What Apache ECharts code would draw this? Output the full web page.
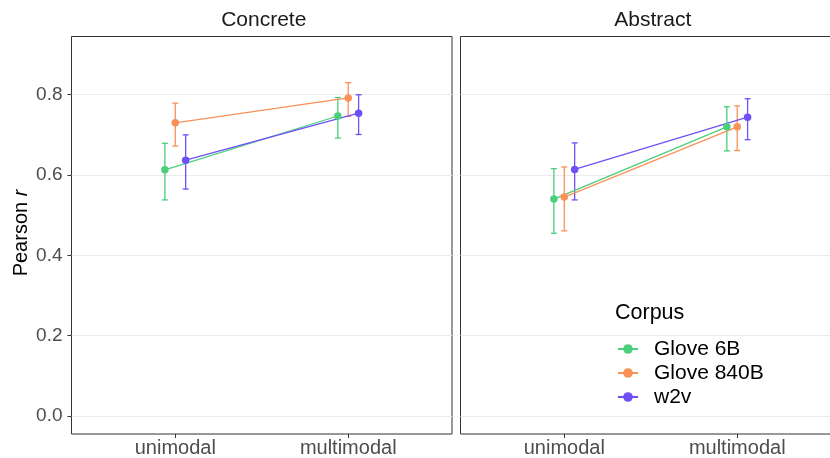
<!DOCTYPE html>
<html>
<head>
<meta charset="utf-8">
<script src="https://cdn.jsdelivr.net/npm/echarts@6/dist/echarts.min.js"></script>
<style>
  html, body { margin: 0; padding: 0; background: #fff; }
  #chart { width: 830px; height: 458px; }
</style>
</head>
<body>
<div id="chart"></div>
<script>
// ---- Data ----
const categories = ['unimodal', 'multimodal'];
const corpora = ['Glove 6B', 'Glove 840B', 'w2v'];
const panels = ['Concrete', 'Abstract'];
const yTicks = [0, 0.2, 0.4, 0.6, 0.8];

// Concrete panel: per corpus, values for [unimodal, multimodal]
const concreteMean = [[0.613, 0.747], [0.730, 0.792], [0.637, 0.754]];
const concreteLow  = [[0.538, 0.692], [0.672, 0.746], [0.565, 0.701]];
const concreteHigh = [[0.679, 0.793], [0.779, 0.830], [0.700, 0.800]];

// Abstract panel
const abstractMean = [[0.540, 0.720], [0.545, 0.720], [0.614, 0.744]];
const abstractLow  = [[0.455, 0.660], [0.461, 0.661], [0.538, 0.688]];
const abstractHigh = [[0.616, 0.770], [0.620, 0.772], [0.680, 0.790]];

// ---- Styling ----
const colors = ['#4BCF7C', '#FA9158', '#6F4FF6'];
const FONT = "'Liberation Sans', Arial, Helvetica, sans-serif";
const dodge = 0.18;

const panelData = [
  { mean: concreteMean, low: concreteLow, high: concreteHigh },
  { mean: abstractMean, low: abstractLow, high: abstractHigh }
];

const gridTop = 36.5, gridHeight = 397.5, panelWidth = 380.5;
// the right panel runs past the image edge, as in the original
const grids = [
  { left: 71.5, top: gridTop, width: panelWidth, height: gridHeight, show: true, borderColor: '#333', borderWidth: 1, backgroundColor: '#fff', outerBoundsMode: 'none', containLabel: false },
  { left: 460.5, top: gridTop, width: panelWidth, height: gridHeight, show: true, borderColor: '#333', borderWidth: 1, backgroundColor: '#fff', outerBoundsMode: 'none', containLabel: false }
];

const xAxes = grids.map((g, i) => ({
  type: 'value', gridIndex: i, min: 0.4, max: 2.6,
  axisLine: { show: false, onZero: false },
  axisTick: { show: true, customValues: [1, 2], length: 4, lineStyle: { color: '#333', width: 1 } },
  axisLabel: { customValues: [1, 2], formatter: v => categories[Math.round(v) - 1] || '', color: '#4D4D4D', fontSize: 20, fontFamily: FONT, margin: 4 },
  splitLine: { show: false }
}));

const yAxes = grids.map((g, i) => ({
  type: 'value', gridIndex: i, min: -0.045, max: 0.945,
  axisLine: { show: false, onZero: false },
  axisTick: { show: i === 0, customValues: yTicks, length: 4, lineStyle: { color: '#333', width: 1 } },
  axisLabel: { show: i === 0, customValues: yTicks, formatter: v => v.toFixed(1), color: '#4D4D4D', fontSize: 19, fontFamily: FONT, margin: 9 },
  splitLine: { show: true, customValues: yTicks, lineStyle: { color: '#EBEBEB', width: 1 } }
}));

const series = [];
panelData.forEach((pd, p) => {
  corpora.forEach((name, c) => {
    const off = (c - 1) * dodge / 3;
    series.push({
      type: 'custom', name: name + ' err', xAxisIndex: p, yAxisIndex: p,
      data: categories.map((cat, k) => [k + 1 + off, pd.low[c][k], pd.high[c][k]]),
      encode: { x: 0, y: [1, 2] },
      renderItem: (params, api) => {
        const lo = api.coord([api.value(0), api.value(1)]);
        const hi = api.coord([api.value(0), api.value(2)]);
        const hw = 3;
        const st = { stroke: colors[c], lineWidth: 1.3 };
        return { type: 'group', children: [
          { type: 'line', shape: { x1: lo[0], y1: lo[1], x2: hi[0], y2: hi[1] }, style: st },
          { type: 'line', shape: { x1: lo[0] - hw, y1: lo[1], x2: lo[0] + hw, y2: lo[1] }, style: st },
          { type: 'line', shape: { x1: hi[0] - hw, y1: hi[1], x2: hi[0] + hw, y2: hi[1] }, style: st }
        ]};
      },
      z: 2, silent: true
    });
  });
  corpora.forEach((name, c) => {
    const off = (c - 1) * dodge / 3;
    series.push({
      type: 'line', name: name, xAxisIndex: p, yAxisIndex: p,
      data: categories.map((cat, k) => [k + 1 + off, pd.mean[c][k]]),
      symbol: 'circle', symbolSize: 7.5, showSymbol: true,
      lineStyle: { color: colors[c], width: 1.3 },
      itemStyle: { color: colors[c] },
      z: 3, silent: true, animation: false
    });
  });
});

const chart = echarts.init(document.getElementById('chart'), null, { renderer: 'canvas' });
chart.setOption({
  animation: false,
  backgroundColor: '#fff',
  grid: grids,
  xAxis: xAxes,
  yAxis: yAxes,
  legend: {
    data: corpora,
    orient: 'vertical',
    left: 617, top: 338.5, padding: 0,
    itemWidth: 20, itemHeight: 12, itemGap: 3,
    textStyle: { fontSize: 21, fontFamily: FONT, color: '#000', padding: [0, 0, 0, 11] },
    selectedMode: false
  },
  graphic: [
    { type: 'text', x: 71.5 + panelWidth / 2 + 2, y: 20.5, style: { text: panels[0], fontSize: 21, fontFamily: FONT, fill: '#1A1A1A', textAlign: 'center', textVerticalAlign: 'middle' } },
    { type: 'text', x: 460.5 + panelWidth / 2 + 2, y: 20.5, style: { text: panels[1], fontSize: 21, fontFamily: FONT, fill: '#1A1A1A', textAlign: 'center', textVerticalAlign: 'middle' } },
    { type: 'text', x: 21, y: 233, rotation: Math.PI / 2, style: {
        text: '{a|Pearson }{b|r}', textAlign: 'center', textVerticalAlign: 'middle',
        rich: { a: { fontSize: 20, fontFamily: FONT, fill: '#000' }, b: { fontSize: 20, fontFamily: FONT, fontStyle: 'italic', fill: '#000' } } } },
    { type: 'text', x: 615, y: 313, style: { text: 'Corpus', fontSize: 21.5, fontFamily: FONT, fill: '#000', textAlign: 'left', textVerticalAlign: 'middle' } }
  ],
  series: series
});
</script>
</body>
</html>
